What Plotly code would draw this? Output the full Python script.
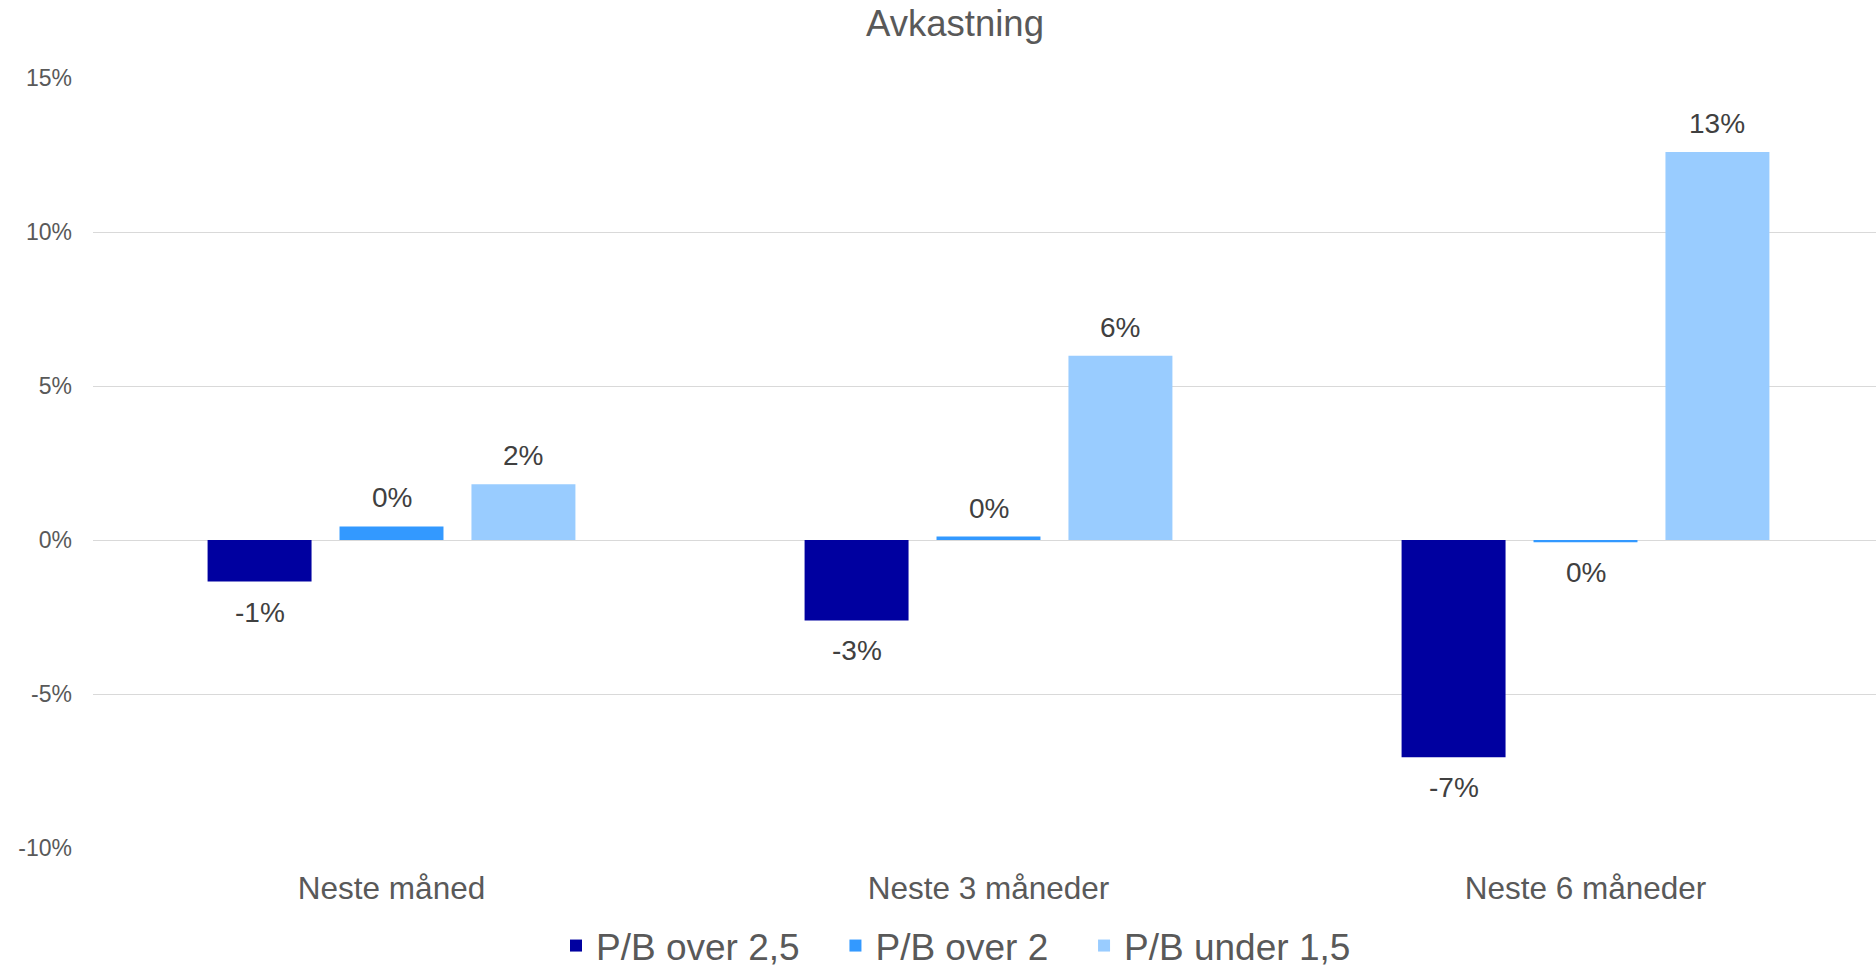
import plotly.graph_objects as go

# Return after the P/B screen, in percent
categories = ["Neste måned", "Neste 3 måneder", "Neste 6 måneder"]
series_names = ["P/B over 2,5", "P/B over 2", "P/B under 1,5"]
pb_over_25 = [-1.35, -2.61, -7.05]
pb_over_2 = [0.44, 0.11, -0.07]
pb_under_15 = [1.81, 5.98, 12.6]
y_ticks = [-10, -5, 0, 5, 10, 15]
y_tick_labels = ["-10%", "-5%", "0%", "5%", "10%", "15%"]

colors = ["#0000A0", "#3399FF", "#99CCFF"]
FONT = "Arial, 'Liberation Sans', sans-serif"

W, H = 1876, 970
M_L, M_R, M_T, M_B = 93, 0, 78, 122
X_RANGE = [-0.5, 2.4866]
BARGAP = 0.337
BARGROUPGAP = 0.212
LEGEND_PAD = "\u00a0" * 3  # extra room after each legend entry


def pct_label(v):
    return f"{int(round(v))}%"


fig = go.Figure()
all_series = [pb_over_25, pb_over_2, pb_under_15]
for k, (name, vals, col) in enumerate(zip(series_names, all_series, colors)):
    last = k == len(all_series) - 1
    fig.add_trace(go.Bar(
        name=name if last else name + LEGEND_PAD,
        x=categories,
        y=vals,
        marker=dict(color=col, line=dict(width=0)),
        hoverinfo="skip",
    ))

# Value labels: one per bar, shifted sideways to the bar's slot in its group
cat_px = (W - M_L - M_R) / (X_RANGE[1] - X_RANGE[0])
slot_px = cat_px * (1 - BARGAP) / len(all_series)
for i, vals in enumerate(all_series):
    dx = (i - (len(all_series) - 1) / 2) * slot_px
    for cat, v in zip(categories, vals):
        pos = v >= 0
        fig.add_annotation(
            x=cat, y=v, xref="x", yref="y",
            text=pct_label(v),
            showarrow=False,
            xshift=dx,
            yanchor="bottom" if pos else "top",
            yshift=11 if pos else -13,
            font=dict(family=FONT, size=28, color="#404040"),
        )

fig.update_layout(
    width=W,
    height=H,
    margin=dict(l=M_L, r=M_R, t=M_T, b=M_B),
    paper_bgcolor="white",
    plot_bgcolor="white",
    barmode="group",
    bargap=BARGAP,
    bargroupgap=BARGROUPGAP,
    font=dict(family=FONT, color="#595959"),
    title=dict(
        text="Avkastning",
        font=dict(family=FONT, size=36.5, color="#595959"),
        x=955 / W, xanchor="center", xref="container",
        y=1 - 23 / H, yanchor="middle", yref="container",
    ),
    legend=dict(
        orientation="h",
        xref="container", yref="container",
        x=556 / W, xanchor="left",
        y=1 - 946 / H, yanchor="middle",
        font=dict(family=FONT, size=37, color="#595959"),
        bgcolor="rgba(0,0,0,0)",
    ),
    xaxis=dict(
        type="category",
        range=X_RANGE,
        showgrid=False,
        showline=False,
        zeroline=False,
        ticks="",
        tickfont=dict(family=FONT, size=31.5, color="#595959"),
        ticklabelstandoff=18,
    ),
    yaxis=dict(
        range=[-10, 15],
        tickvals=y_ticks,
        ticktext=y_tick_labels,
        showgrid=True,
        gridcolor="#D9D9D9",
        gridwidth=1,
        zeroline=True,
        zerolinecolor="#D9D9D9",
        zerolinewidth=1,
        showline=False,
        ticks="",
        tickfont=dict(family=FONT, size=23, color="#595959"),
        ticklabelstandoff=20,
    ),
)

fig.write_html("out.html")
